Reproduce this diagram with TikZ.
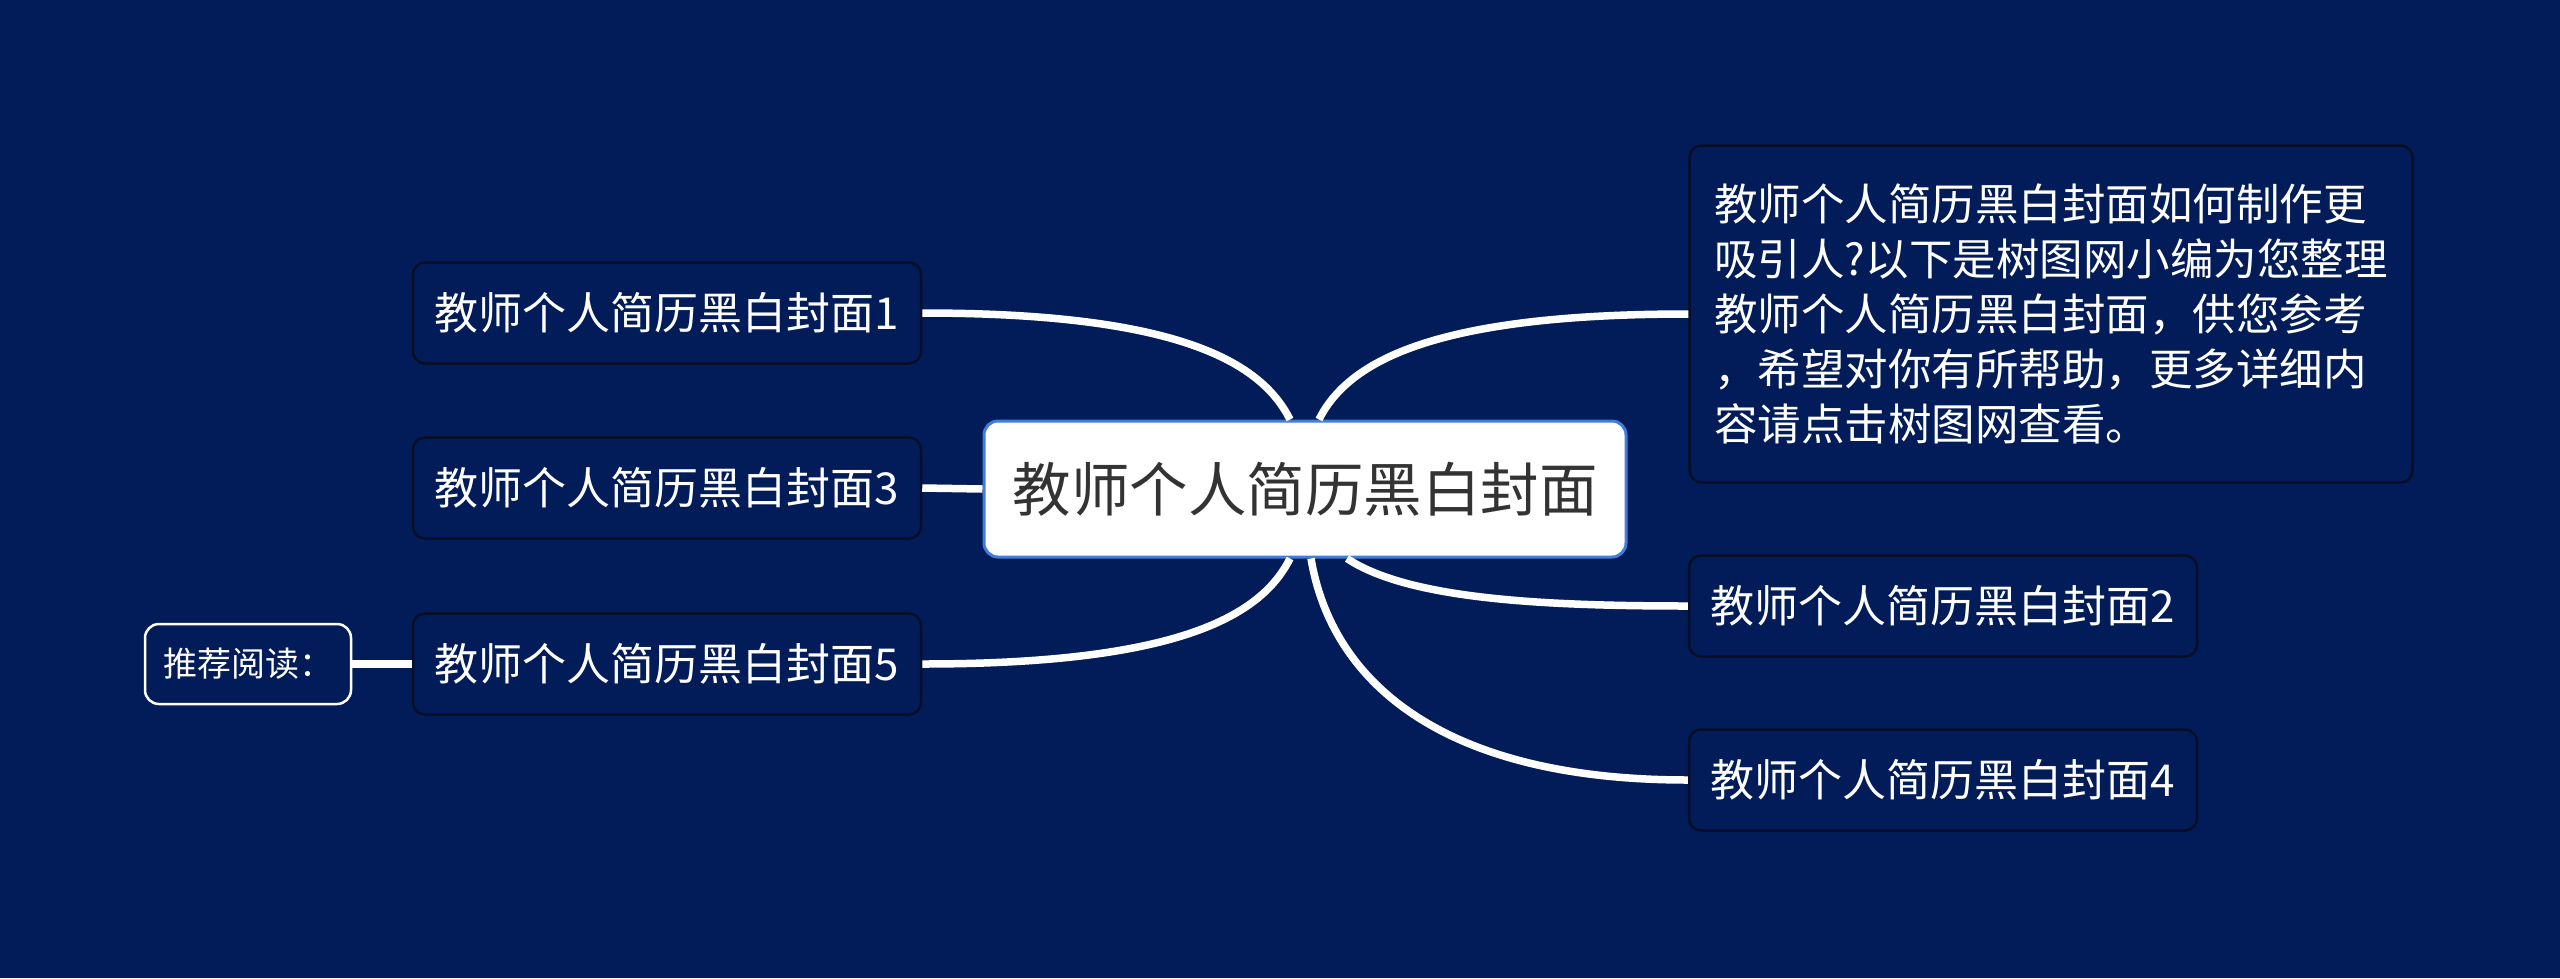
\documentclass[tikz,border=0pt]{standalone}
\usepackage{fontspec}
\setmainfont{Noto Sans CJK SC}
\definecolor{bgc}{RGB}{1,28,88}
\definecolor{nodeborder}{RGB}{8,14,38}
\definecolor{centerborder}{RGB}{66,125,220}
\definecolor{centertext}{RGB}{51,51,51}
\begin{document}
\begin{tikzpicture}[x=1pt,y=-1pt,
  subnode/.style={draw=nodeborder, line width=2.5pt, fill=bgc, rounded corners=12pt,
    text=white, font=\fontsize{44}{55}\selectfont, inner sep=0pt,
    minimum width=508pt, minimum height=101pt},
  descnode/.style={subnode, align=left, font=\fontsize{43.5}{55}\selectfont,
    minimum width=723pt, minimum height=337pt},
  centernode/.style={draw=centerborder, line width=3pt, fill=white, rounded corners=14pt,
    text=centertext, font=\fontsize{58.5}{64}\selectfont, inner sep=0pt,
    minimum width=642pt, minimum height=136pt},
  recnode/.style={draw=white, line width=2.5pt, fill=bgc, rounded corners=14pt,
    text=white, font=\fontsize{34}{40}\selectfont, inner sep=0pt,
    minimum width=206pt, minimum height=80pt},
  conn/.style={draw=white, line width=7.5pt}
]
\fill[bgc] (0,0) rectangle (2560,978);
\useasboundingbox (0,0) rectangle (2560,978);

\node[centernode] (c) at (1305,489) {教师个人简历黑白封面};
\node[subnode] (n1) at (667,313) {教师个人简历黑白封面1};
\node[subnode] (n3) at (667,488) {教师个人简历黑白封面3};
\node[subnode] (n5) at (667,664) {教师个人简历黑白封面5};
\node[recnode] (rec) at (248,664) {推荐阅读：};
\node[descnode] (desc) at (2051,314) {教师个人简历黑白封面如何制作更\\吸引人?以下是树图网小编为您整理\\教师个人简历黑白封面，供您参考\\，希望对你有所帮助，更多详细内\\容请点击树图网查看。};
\node[subnode] (n2) at (1943,606) {教师个人简历黑白封面2};
\node[subnode] (n4) at (1943,780) {教师个人简历黑白封面4};

\draw[conn] (n1.east) .. controls +(250,0) and +(-30,-60) .. ([xshift=-15pt]c.north);
\draw[conn] (n3.east) -- (c.west);
\draw[conn] (n5.east) .. controls +(250,0) and +(-30,60) .. ([xshift=-15pt]c.south);
\draw[conn] (rec.east) -- (n5.west);
\draw[conn] ([xshift=14pt]c.north) .. controls +(30,-60) and +(-250,0) .. (desc.west);
\draw[conn] ([xshift=42pt]c.south) .. controls +(60,40) and +(-150,0) .. (n2.west);
\draw[conn] ([xshift=6pt]c.south) .. controls +(20,120) and +(-250,0) .. (n4.west);
\end{tikzpicture}
\end{document}
